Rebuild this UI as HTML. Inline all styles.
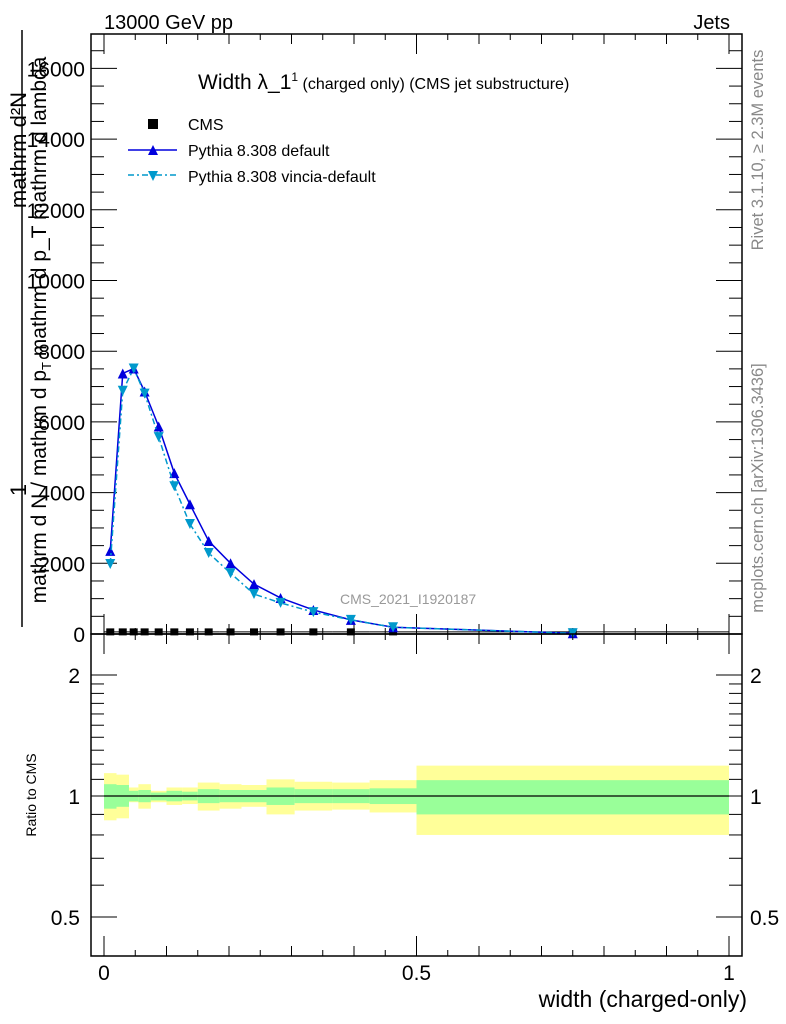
<!DOCTYPE html>
<html><head><meta charset="utf-8"><style>
body{margin:0;background:#fff;}
svg{display:block;font-family:"Liberation Sans",sans-serif;}
</style></head><body>
<svg id="c" width="786" height="1024" viewBox="0 0 786 1024" xmlns="http://www.w3.org/2000/svg">
<text x="104" y="29" font-size="20">13000 GeV pp</text>
<text x="730" y="29" font-size="20" text-anchor="end">Jets</text>
<text x="198" y="89" font-size="21">Width λ_1<tspan font-size="12" dy="-8">1</tspan><tspan font-size="16" dy="8"> (charged only) (CMS jet substructure)</tspan></text>
<text transform="translate(763,150) rotate(-90)" font-size="16.5" fill="#888" text-anchor="middle">Rivet 3.1.10, ≥ 2.3M events</text>
<text transform="translate(763,488) rotate(-90)" font-size="16.5" fill="#888" text-anchor="middle">mcplots.cern.ch [arXiv:1306.3436]</text>
<text x="340" y="604" font-size="14" fill="#999">CMS_2021_I1920187</text>
<g>
<text transform="translate(26,150) rotate(-90)" font-size="22" text-anchor="middle">mathrm d²N</text>
<text transform="translate(26,490) rotate(-90)" font-size="22" text-anchor="middle">1</text>
<line x1="22" y1="30" x2="22" y2="627" stroke="#000" stroke-width="1.5"/>
<text transform="translate(46,330) rotate(-90)" font-size="21" text-anchor="middle">mathrm d N / mathrm d p<tspan font-size="13" dy="5">T</tspan><tspan dy="-5"> mathrm d p_T mathrm d lambda</tspan></text>
</g>
<text transform="translate(36,795) rotate(-90)" font-size="14" text-anchor="middle">Ratio to CMS</text>
<text x="747" y="1007" font-size="23" text-anchor="end">width (charged-only)</text>
<g id="main"></g>
<g id="ratio"></g>
<g>
<rect x="148" y="119" width="10" height="10" fill="#000"/>
<text x="188" y="130" font-size="16">CMS</text>
<line x1="128" y1="150" x2="177" y2="150" stroke="#00d" stroke-width="1.5"/>
<path d="M148,155 L158,155 L153,145 Z" fill="#00d"/>
<text x="188" y="156" font-size="16">Pythia 8.308 default</text>
<line x1="128" y1="175" x2="177" y2="175" stroke="#09c" stroke-width="1.5" stroke-dasharray="6,3,2,3"/>
<path d="M148,171 L158,171 L153,181 Z" fill="#09c"/>
<text x="188" y="182" font-size="16">Pythia 8.308 vincia-default</text>
</g>
</svg>
<script>
const edges=[0,0.02,0.04,0.055,0.075,0.1,0.125,0.15,0.185,0.22,0.26,0.305,0.365,0.425,0.5,1.0];
const centers=[0.01,0.03,0.0475,0.065,0.0875,0.1125,0.1375,0.1675,0.2025,0.24,0.2825,0.335,0.395,0.4625,0.75];
const cmsVals=[60,60,60,60,60,60,60,60,60,60,60,60,60,60,60];
const pyDefault=[2350,7370,7510,6860,5870,4550,3670,2630,2000,1410,1020,680,400,190,20];
const pyVincia=[1980,6880,7510,6800,5570,4180,3110,2290,1720,1130,880,620,400,190,20];
const yellowUp=[0.14,0.13,0.05,0.07,0.03,0.05,0.05,0.08,0.07,0.065,0.10,0.085,0.08,0.095,0.19];
const yellowDn=[0.13,0.12,0.035,0.07,0.035,0.05,0.045,0.08,0.07,0.06,0.10,0.08,0.075,0.09,0.20];
const greenUp=[0.07,0.065,0.03,0.035,0.02,0.03,0.025,0.04,0.035,0.035,0.05,0.04,0.04,0.045,0.095];
const greenDn=[0.07,0.06,0.03,0.035,0.025,0.03,0.025,0.04,0.035,0.035,0.05,0.04,0.04,0.045,0.10];
const mainTicks=[0,2000,4000,6000,8000,10000,12000,14000,16000];
const mainTickLabels=["0","2000","4000","6000","8000","10000","12000","14000","16000"];
const ratioTicks=[0.5,1,2];
const ratioTickLabels=["0.5","1","2"];
const xTicks=[0,0.5,1];
const xTickLabels=["0","0.5","1"];

const NS="http://www.w3.org/2000/svg";
const L=91,R=742,T=34,MB=634,RB=956;
const X=v=>104+v*625;
const Y=v=>634-v*0.03535;
const YR=r=>796-121*Math.log2(r);
function mk(p,tag,a){const e=document.createElementNS(NS,tag);for(const k in a)e.setAttribute(k,a[k]);p.appendChild(e);return e;}
const main=document.getElementById('main'),ratio=document.getElementById('ratio');





for(let i=0;i<centers.length;i++){
  const x0=X(edges[i]),x1=X(edges[i+1]);
  const y=mk(ratio,'rect',{x:x0,y:YR(1+yellowUp[i]),width:x1-x0,height:YR(1-yellowDn[i])-YR(1+yellowUp[i]),fill:'#ffff99'});
  
  
  const g=mk(ratio,'rect',{x:x0,y:YR(1+greenUp[i]),width:x1-x0,height:YR(1-greenDn[i])-YR(1+greenUp[i]),fill:'#99ff99'});
  
  
}
const one=mk(ratio,'line',{x1:X(0),x2:X(1),y1:YR(1),y2:YR(1),stroke:'#000','stroke-width':1.3});



const f1=mk(main,'rect',{x:L,y:T,width:R-L,height:MB-T,fill:'none',stroke:'#000','stroke-width':1.5});


const f2=mk(ratio,'rect',{x:L,y:MB,width:R-L,height:RB-MB,fill:'none',stroke:'#000','stroke-width':1.5});



for(let v=0;v<=16500;v+=500){const big=v%2000===0,len=big?26:13,y=Y(v);
  mk(main,'line',{x1:L,x2:L+len,y1:y,y2:y,stroke:'#000'});mk(main,'line',{x1:R,x2:R-len,y1:y,y2:y,stroke:'#000'});}
mainTicks.forEach((v,i)=>{const t=mk(main,'text',{x:85,y:Y(v)+8,'font-size':21,'text-anchor':'end'});t.textContent=mainTickLabels[i];
  
  });
for(let k=0;k<=20;k++){const v=k*0.05,x=X(v),big=k%10===0,len=big?20:(k%2===0?10:6);
  mk(main,'line',{x1:x,x2:x,y1:MB,y2:MB-len,stroke:'#000'});mk(main,'line',{x1:x,x2:x,y1:T,y2:T+len,stroke:'#000'});
  mk(ratio,'line',{x1:x,x2:x,y1:RB,y2:RB-len,stroke:'#000'});mk(ratio,'line',{x1:x,x2:x,y1:MB,y2:MB+len,stroke:'#000'});}
xTicks.forEach((v,i)=>{const t=mk(ratio,'text',{x:X(v),y:980,'font-size':21,'text-anchor':'middle'});t.textContent=xTickLabels[i];
  
  });
[0.4,0.5,0.6,0.7,0.8,0.9,1,1.1,1.2,1.3,1.4,1.5,1.6,1.7,1.8,1.9,2].forEach(r=>{const y=YR(r),big=(r===0.5||r===1||r===2),len=big?26:13;
  mk(ratio,'line',{x1:L,x2:L+len,y1:y,y2:y,stroke:'#000'});mk(ratio,'line',{x1:R,x2:R-len,y1:y,y2:y,stroke:'#000'});});
ratioTicks.forEach((r,i)=>{
  const t=mk(ratio,'text',{x:80,y:YR(r)+8,'font-size':21,'text-anchor':'end'});t.textContent=ratioTickLabels[i];
  
  
  const t2=mk(ratio,'text',{x:750,y:YR(r)+8,'font-size':21});t2.textContent=ratioTickLabels[i];
  
  });

function series(vals,color,dash,name,down){
  const pl=mk(main,'polyline',{points:vals.map((v,i)=>X(centers[i])+','+Y(v)).join(' '),fill:'none',stroke:color,'stroke-width':1.5});
  if(dash)pl.setAttribute('stroke-dasharray',dash);
  
  
  vals.forEach((v,i)=>{const x=X(centers[i]),y=Y(v);
    const d=down?`M${x-5},${y-5} L${x+5},${y-5} L${x},${y+5} Z`:`M${x-5},${y+5} L${x+5},${y+5} L${x},${y-5} Z`;
    const p=mk(main,'path',{d:d,fill:color});
    
    });
}
cmsVals.forEach((v,i)=>{const x=X(centers[i]),y=Y(v);
  mk(main,'line',{x1:X(edges[i]),x2:X(edges[i+1]),y1:y,y2:y,stroke:'#000'});
  const s=mk(main,'rect',{x:x-4,y:y-3.5,width:8,height:7,fill:'#000'});
  
  });
series(pyDefault,'#0000dd',null,'pythia-default',false);
series(pyVincia,'#0099cc','6,3,2,3','pythia-vincia',true);
</script>
</body></html>
